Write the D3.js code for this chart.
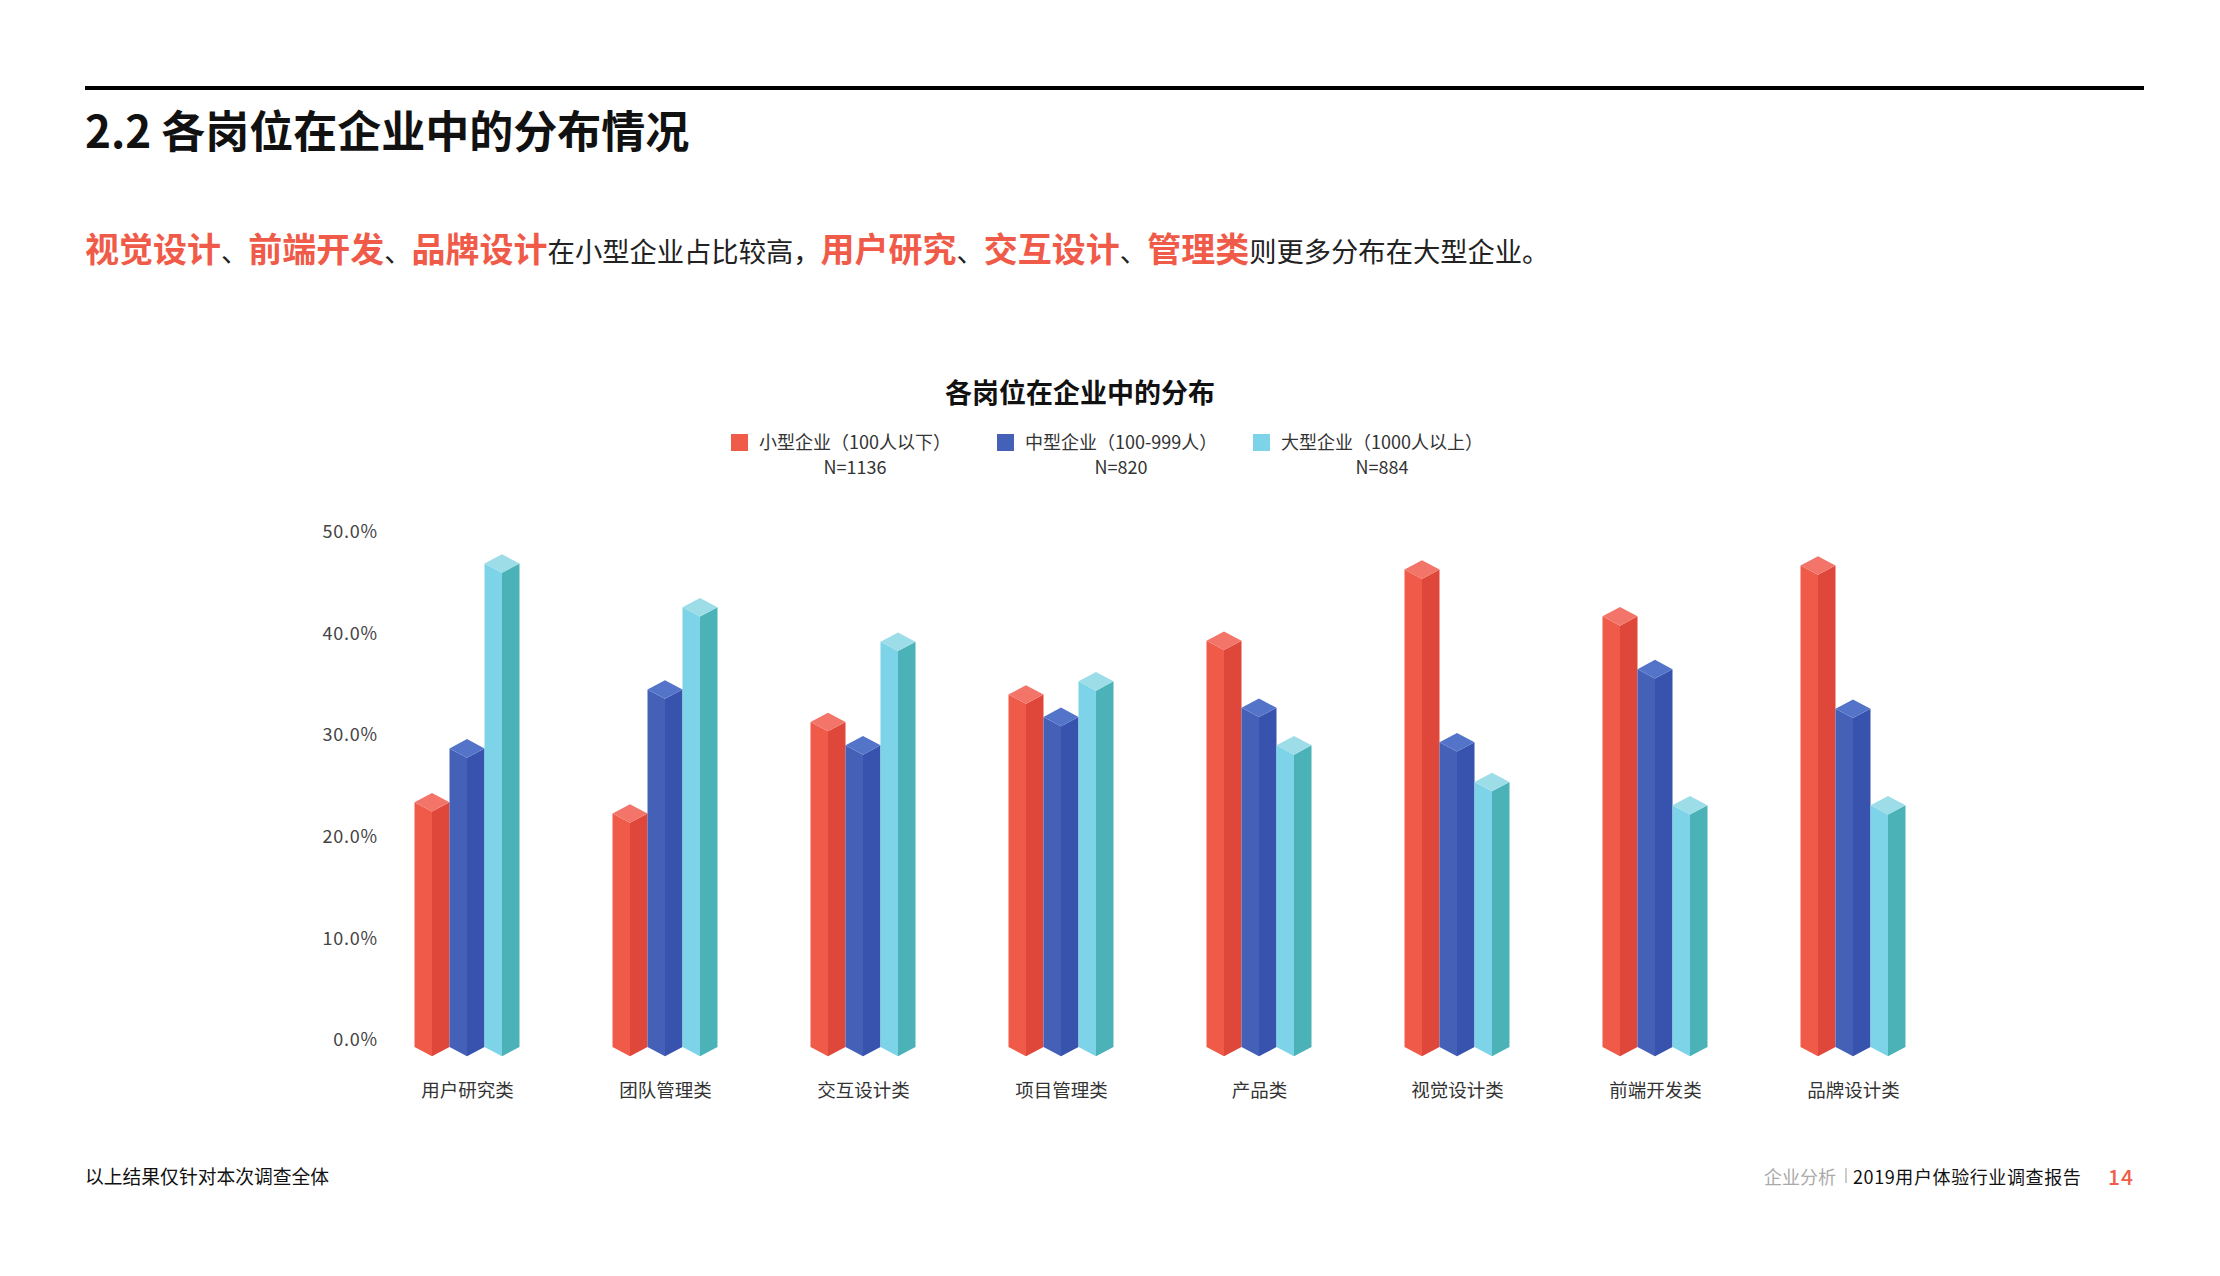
<!DOCTYPE html>
<html>
<head>
<meta charset="utf-8">
<script src="https://cdn.jsdelivr.net/npm/d3@7"></script>
<style>
  html, body { margin: 0; padding: 0; background: #fff; }
  svg { display: block; font-family: "Noto Sans CJK SC", "Noto Sans", sans-serif; }
</style>
</head>
<body>
<svg id="chart" width="2220" height="1276"></svg>
<script>
// ---- data ----
const categories = ["用户研究类", "团队管理类", "交互设计类", "项目管理类", "产品类", "视觉设计类", "前端开发类", "品牌设计类"];
const seriesNames = ["小型企业（100人以下）", "中型企业（100-999人）", "大型企业（1000人以上）"];
const seriesN = ["N=1136", "N=820", "N=884"];
const smallValues  = [23.4, 22.3, 31.3, 34.0, 39.3, 46.3, 41.7, 46.7];
const mediumValues = [28.7, 34.5, 29.0, 31.8, 32.7, 29.3, 36.5, 32.6];
const largeValues  = [46.9, 42.6, 39.2, 35.3, 29.0, 25.4, 23.1, 23.1];
const tickValues = [0, 10, 20, 30, 40, 50];
const tickLabels = ["0.0%", "10.0%", "20.0%", "30.0%", "40.0%", "50.0%"];

const headingText = "2.2 各岗位在企业中的分布情况";
const chartTitle = "各岗位在企业中的分布";
const subtitleParts = [
  ["视觉设计", true], ["、", false], ["前端开发", true], ["、", false], ["品牌设计", true],
  ["在小型企业占比较高，", false], ["用户研究", true], ["、", false], ["交互设计", true], ["、", false],
  ["管理类", true], ["则更多分布在大型企业。", false]
];
const footnote = "以上结果仅针对本次调查全体";
const footerSection = "企业分析";
const footerReport = "2019用户体验行业调查报告";
const pageNumber = "14";

// ---- styles ----
const palette = [
  { left: "#F05B49", right: "#E0473B", top: "#F37468" },
  { left: "#4461B7", right: "#3753AE", top: "#5374C9" },
  { left: "#7DD3E8", right: "#4BB3B7", top: "#9DDDE8" }
];
const accent = "#F05B49";

const svg = d3.select("#chart");

// top rule
svg.append("line").attr("x1", 85).attr("x2", 2144).attr("y1", 88).attr("y2", 88)
  .attr("stroke", "#000").attr("stroke-width", 4);

// heading
svg.append("text").attr("x", 85).attr("y", 148)
  .attr("font-size", 44).attr("font-weight", 700).attr("fill", "#111")
  .text(headingText);

// subtitle
const sub = svg.append("text").attr("x", 85).attr("y", 262);
subtitleParts.forEach(([t, hl]) => {
  sub.append("tspan")
    .attr("font-size", hl ? 34 : 27.3)
    .attr("font-weight", hl ? 700 : 400)
    .attr("fill", hl ? accent : "#222")
    .text(t);
});

// chart title
svg.append("text").attr("x", 1080).attr("y", 403).attr("text-anchor", "middle")
  .attr("font-size", 27).attr("font-weight", 700).attr("fill", "#111")
  .text(chartTitle);

// legend
const legendX = [731, 997, 1253];
const legend = svg.append("g");
seriesNames.forEach((name, i) => {
  const g = legend.append("g");
  g.append("rect").attr("x", legendX[i]).attr("y", 434).attr("width", 17).attr("height", 17)
    .attr("fill", palette[i].left);
  const t = g.append("text").attr("x", legendX[i] + 28).attr("y", 449)
    .attr("font-size", 18).attr("fill", "#333").text(name);
  const bb = t.node().getBBox();
  g.append("text").attr("x", bb.x + bb.width / 2).attr("y", 474).attr("text-anchor", "middle")
    .attr("font-size", 18).attr("fill", "#333").text(seriesN[i]);
});

// scales
const y = d3.scaleLinear().domain([0, 50]).range([1040, 532]);
const x = d3.scalePoint().domain(categories).range([467, 1853]);
const xs = d3.scaleBand().domain(seriesNames).range([-52.5, 52.5]).padding(0);

// y axis
const yAxis = d3.axisLeft(y).tickValues(tickValues).tickSize(0).tickPadding(10)
  .tickFormat((d, i) => tickLabels[i]);
const yg = svg.append("g").attr("transform", "translate(388,0)").call(yAxis);
yg.select(".domain").remove();
yg.selectAll("text").attr("font-size", 18).attr("fill", "#444").attr("letter-spacing", 0.8)
  .attr("font-family", "'Noto Sans CJK SC', sans-serif");

// bars
const allValues = [smallValues, mediumValues, largeValues];
const w = xs.bandwidth() / 2;
const dy = 9.3;
const base = y(0) + 7;
const barsG = svg.append("g");
categories.forEach((cat, ci) => {
  seriesNames.forEach((s, si) => {
    const v = allValues[si][ci];
    const cx = x(cat) + xs(s) + w;
    const t = y(v);
    const col = palette[si];
    const g = barsG.append("g");
    g.append("polygon").attr("fill", col.left)
      .attr("points", [[cx - w, t], [cx, t + dy], [cx, base + dy], [cx - w, base]].map(p => p.join(",")).join(" "));
    g.append("polygon").attr("fill", col.right)
      .attr("points", [[cx, t + dy], [cx + w, t], [cx + w, base], [cx, base + dy]].map(p => p.join(",")).join(" "));
    g.append("polygon").attr("fill", col.top)
      .attr("points", [[cx - w, t], [cx, t - dy], [cx + w, t], [cx, t + dy]].map(p => p.join(",")).join(" "));
  });
});

// x category labels
const xAxis = d3.axisBottom(x).tickSize(0).tickPadding(0);
const xg = svg.append("g").attr("transform", "translate(0,1084)").call(xAxis);
xg.select(".domain").remove();
xg.selectAll("text").attr("font-size", 18.5).attr("fill", "#333")
  .attr("font-family", "'Noto Sans CJK SC', sans-serif");

// footer
svg.append("text").attr("x", 85).attr("y", 1184).attr("font-size", 18.8).attr("fill", "#111").text(footnote);
svg.append("text").attr("x", 1764).attr("y", 1184).attr("font-size", 18).attr("fill", "#aaa").text(footerSection);
svg.append("line").attr("x1", 1846).attr("x2", 1846).attr("y1", 1168).attr("y2", 1183)
  .attr("stroke", "#999").attr("stroke-width", 1);
svg.append("text").attr("x", 1853).attr("y", 1184).attr("font-size", 18).attr("letter-spacing", 0.6)
  .attr("fill", "#111").text(footerReport);
svg.append("text").attr("x", 2134).attr("y", 1185).attr("text-anchor", "end")
  .attr("font-size", 21).attr("font-weight", 500).attr("letter-spacing", 1).attr("fill", accent).text(pageNumber);
</script>
</body>
</html>
